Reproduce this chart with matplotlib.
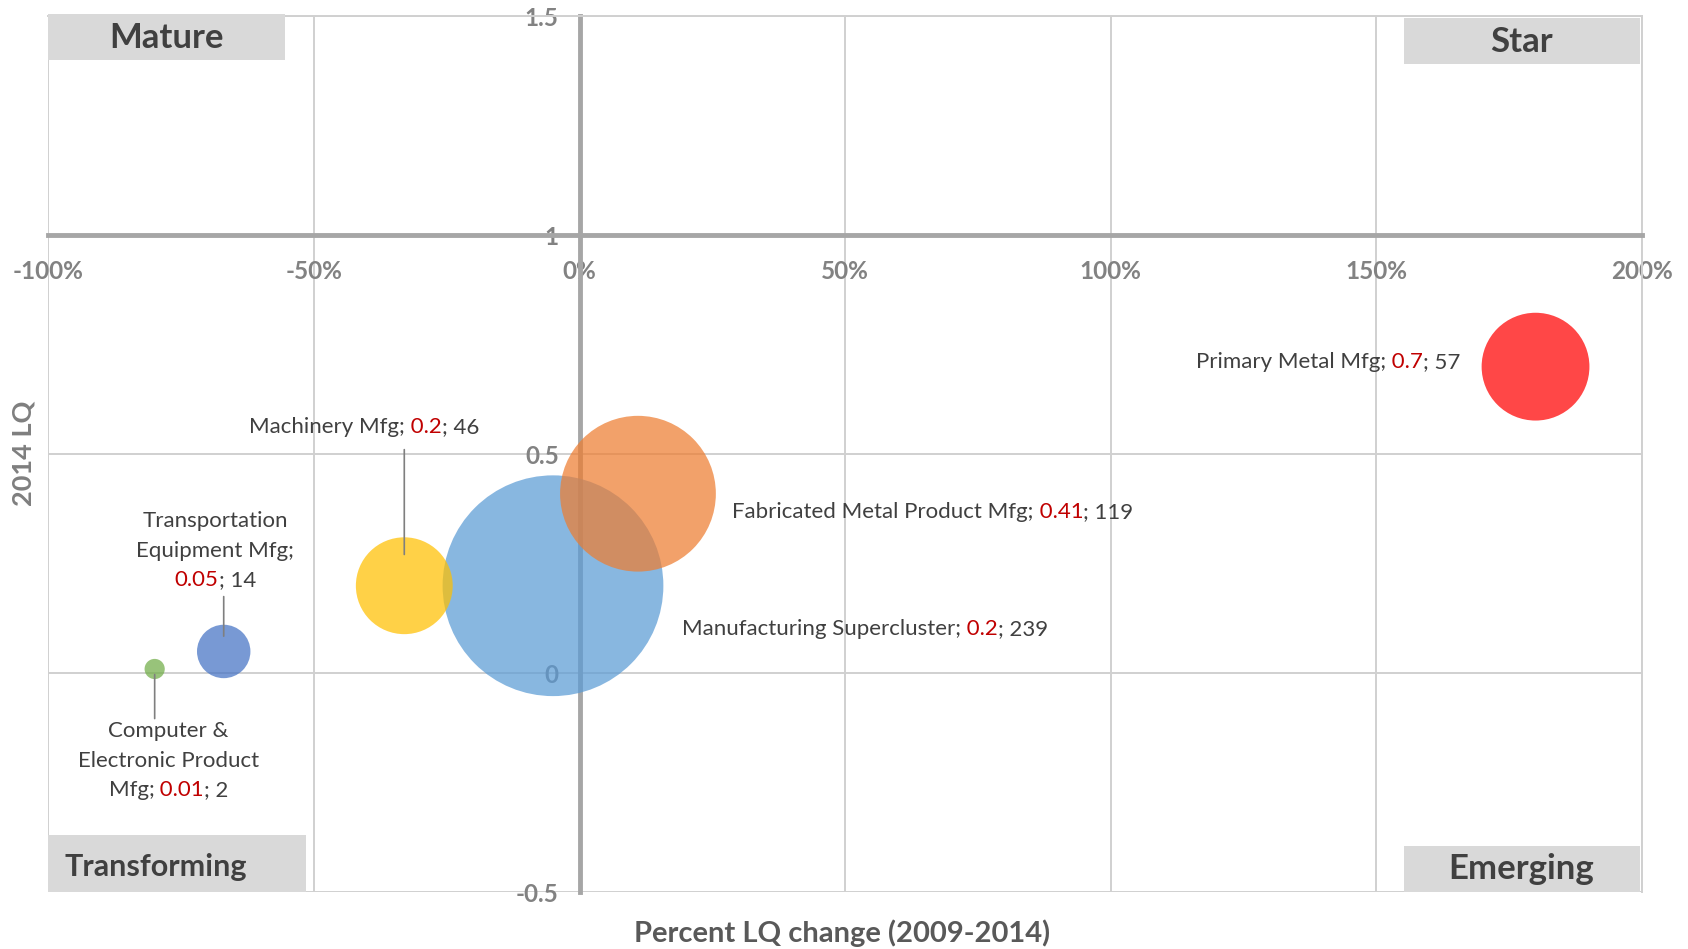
import matplotlib
matplotlib.use("Agg")
import matplotlib.pyplot as plt
from matplotlib.offsetbox import TextArea, HPacker, VPacker, AnnotationBbox
from matplotlib.patches import Rectangle
from matplotlib.ticker import FuncFormatter

# data
clusters = ["Manufacturing Supercluster", "Fabricated Metal Product Mfg", "Primary Metal Mfg",
            "Machinery Mfg", "Transportation Equipment Mfg", "Computer & Electronic Product Mfg"]
pct_lq_change = [-5, 11, 180, -33, -67, -80]
lq_2014 = [0.2, 0.41, 0.7, 0.2, 0.05, 0.01]
employment = [239, 119, 57, 46, 14, 2]
colors = ["#5B9BD5", "#ED7D31", "#FF0000", "#FFC000", "#4472C4", "#70AD47"]

quadrants = ["Mature", "Star", "Transforming", "Emerging"]
x_ticks = [-100, -50, 0, 50, 100, 150, 200]
y_ticks = [-0.5, 0, 0.5, 1, 1.5]

FONT = "Lato"
GRAY_TXT = "#404040"
RED_TXT = "#C00000"
LBL_SIZE = 16

# label placement (offset points from bubble centre), wrapping, leader lines
label_style = [
    dict(xybox=(93, -31), align=(0, 0.5)),
    dict(xybox=(68, -13), align=(0, 0.5)),
    dict(xybox=(-54, 3), align=(1, 0.5)),
    dict(xybox=(-29, 114), align=(0.5, 0.5), leader=(98, 22.5)),
    dict(xybox=(-6, 72.5), align=(0.5, 0.5), wrap=[1, 2, 2], leader=(39.5, 11)),
    dict(xybox=(10, -66), align=(0.5, 0.5), wrap=[2, 2, 3], leader=(-35.7, 4)),
]

# quadrant boxes in axes fraction: (x0, y0, w, h, text_x, text_y, fontsize)
quad_boxes = [
    (0.0, 0.9496, 0.1487, 0.0528, 0.0744, 0.9745, 25),
    (0.8506, 0.9459, 0.148, 0.0516, 0.9243, 0.970, 25),
    (0.0, 0.0, 0.1615, 0.065, 0.0676, 0.0294, 22),
    (0.8506, 0.0, 0.148, 0.0528, 0.9243, 0.0271, 25),
]

fig = plt.figure(figsize=(16.88, 9.49), dpi=100)
ax = fig.add_axes([0.0287, 0.0596, 0.9439, 0.9234])

ax.set_xlim(-100, 200)
ax.set_ylim(-0.5, 1.5)
ax.set_xticks(x_ticks)
ax.set_yticks(y_ticks)
ax.xaxis.set_major_formatter(FuncFormatter(lambda v, p: f"{v:.0f}%"))
ax.yaxis.set_major_formatter(FuncFormatter(lambda v, p: f"{v:g}"))

ax.set_axisbelow(True)
ax.grid(True, color="#D0D0D0", linewidth=1.4)

ax.spines["left"].set_position(("data", 0))
ax.spines["bottom"].set_position(("data", 1))
for s in ["left", "bottom"]:
    ax.spines[s].set_color("#A6A6A6")
    ax.spines[s].set_linewidth(3.5)
for s in ["top", "right"]:
    ax.spines[s].set_color("#D0D0D0")
    ax.spines[s].set_linewidth(1.4)

ax.tick_params(axis="both", length=0, labelsize=17.5, labelcolor="#828282")
ax.tick_params(axis="x", pad=18)
ax.tick_params(axis="y", pad=15)
for t in ax.get_xticklabels() + ax.get_yticklabels():
    t.set_fontfamily(FONT)
    t.set_fontweight("bold")

# bubbles
bubble_scale = 105.7
ax.scatter(pct_lq_change, lq_2014, s=[e * bubble_scale for e in employment],
           c=colors, alpha=0.72, linewidths=0, zorder=3)


def label_pieces(name, lq, size, wrap):
    text = f"{name}; {lq:g}; {size}"
    red0 = len(name) + 2
    red1 = red0 + len(f"{lq:g}")
    words = text.split(" ")
    counts = wrap or [len(words)]
    lines = []
    pos = 0
    i = 0
    for n in counts:
        line = " ".join(words[i:i + n])
        i += n
        pieces = []
        for k, ch in enumerate(line):
            col = RED_TXT if red0 <= pos + k < red1 else GRAY_TXT
            if pieces and pieces[-1][1] == col:
                pieces[-1][0] += ch
            else:
                pieces.append([ch, col])
        # move trailing spaces to next piece so they are measured
        for j in range(len(pieces) - 1):
            stripped = pieces[j][0].rstrip(" ")
            extra = len(pieces[j][0]) - len(stripped)
            pieces[j][0] = stripped
            pieces[j + 1][0] = " " * extra + pieces[j + 1][0]
        lines.append(pieces)
        pos += len(line) + 1
    return lines


for x, y, name, lq, size, st in zip(pct_lq_change, lq_2014, clusters, lq_2014, employment, label_style):
    rows = []
    for pieces in label_pieces(name, lq, size, st.get("wrap")):
        kids = [TextArea(t, textprops=dict(color=c, fontsize=LBL_SIZE, family=FONT)) for t, c in pieces]
        rows.append(HPacker(children=kids, sep=0, pad=0, align="baseline"))
    box = VPacker(children=rows, sep=7, pad=0, align="center")
    ab = AnnotationBbox(box, (x, y), xybox=st["xybox"], xycoords="data", boxcoords="offset points",
                        box_alignment=st["align"], frameon=False, pad=0, zorder=6)
    ax.add_artist(ab)
    if "leader" in st:
        start, end = st["leader"]
        ax.annotate("", xy=(x, y), xytext=(0, start), textcoords="offset points",
                    arrowprops=dict(arrowstyle="-", color="#7F7F7F", lw=1.2, shrinkA=0, shrinkB=end),
                    zorder=5)

# quadrant labels
for q, (x0, y0, w, h, tx, ty, fs) in zip(quadrants, quad_boxes):
    ax.add_patch(Rectangle((x0, y0), w, h, transform=ax.transAxes, facecolor="#D9D9D9",
                           edgecolor="none", clip_on=False, zorder=4))
    ax.text(tx, ty, q, transform=ax.transAxes, ha="center", va="center", fontsize=fs,
            fontweight="bold", color=GRAY_TXT, family=FONT, zorder=5)

fig.text(0.014, 0.5226, "2014 LQ", rotation=90, ha="center", va="center", fontsize=19.5,
         fontweight="bold", color="#7F7F7F", family=FONT)
fig.text(0.4987, 0.0165, "Percent LQ change (2009-2014)", ha="center", va="center", fontsize=21,
         fontweight="bold", color="#595959", family=FONT)

fig.savefig("out.png", dpi=100)
